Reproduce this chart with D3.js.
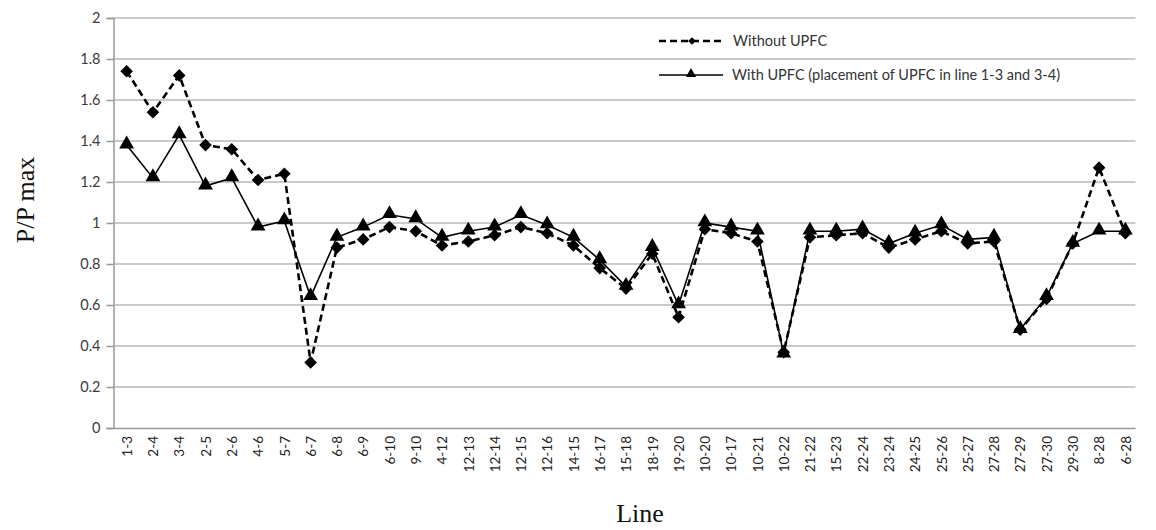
<!DOCTYPE html>
<html><head><meta charset="utf-8">
<script src="https://cdn.jsdelivr.net/npm/d3@7"></script>
<style>body{margin:0;background:#fff;}</style>
</head><body>
<svg id="c" width="1156" height="530"></svg>
<script>
const categories = ["1-3","2-4","3-4","2-5","2-6","4-6","5-7","6-7","6-8","6-9","6-10","9-10","4-12","12-13","12-14","12-15","12-16","14-15","16-17","15-18","18-19","19-20","10-20","10-17","10-21","10-22","21-22","15-23","22-24","23-24","24-25","25-26","25-27","27-28","27-29","27-30","29-30","8-28","6-28"];
const withoutUPFC = [1.74,1.54,1.72,1.38,1.36,1.21,1.24,0.32,0.88,0.92,0.98,0.96,0.89,0.91,0.94,0.98,0.95,0.89,0.78,0.68,0.85,0.54,0.97,0.95,0.91,0.37,0.93,0.94,0.95,0.88,0.92,0.96,0.90,0.91,0.48,0.63,0.90,1.27,0.95];
const withUPFC = [1.38,1.22,1.43,1.18,1.22,0.98,1.01,0.64,0.93,0.98,1.04,1.02,0.93,0.96,0.98,1.04,0.99,0.93,0.82,0.69,0.88,0.60,1.00,0.98,0.96,0.36,0.96,0.96,0.97,0.90,0.95,0.99,0.92,0.93,0.48,0.64,0.90,0.96,0.96];
const yTicks = [0,0.2,0.4,0.6,0.8,1,1.2,1.4,1.6,1.8,2];
const seriesNames = ["Without UPFC","With UPFC (placement of UPFC in line 1-3 and 3-4)"];

const svg = d3.select("#c");
const mLeft = 113.5, mRight = 1138.5, mTop = 18, mBottom = 428;
const x = d3.scalePoint().domain(categories).range([mLeft, mRight]).padding(0.5);
const y = d3.scaleLinear().domain([0,2]).range([mBottom, mTop]);
const tickFont = "Lato, 'Open Sans', sans-serif";

// gridlines
svg.append("g").selectAll("line").data(yTicks.filter(d=>d>0)).join("line")
  .attr("x1", mLeft).attr("x2", mRight - 3)
  .attr("y1", d=>y(d)).attr("y2", d=>y(d))
  .attr("stroke", "#b8b8b8").attr("stroke-width", 1.5);

// y axis
const ya = svg.append("g").attr("transform", `translate(${mLeft},0)`)
  .call(d3.axisLeft(y).tickValues(yTicks).tickSize(7).tickPadding(6).tickFormat(d=>String(d)));
ya.select(".domain").attr("stroke", "#999").attr("stroke-width", 1.5);
ya.selectAll(".tick line").attr("stroke", "#999").attr("stroke-width", 1.5);
ya.selectAll("text").attr("font-family", tickFont).attr("font-size", 14.5).attr("fill", "#3a3a3a");

// x axis
const xa = svg.append("g").attr("transform", `translate(0,${mBottom})`)
  .call(d3.axisBottom(x).tickSize(0).tickPadding(0));
xa.select(".domain").attr("d", `M${mLeft},0.5H${mRight-3}`).attr("stroke", "#999").attr("stroke-width", 1.5);
xa.selectAll("text")
  .attr("font-family", tickFont).attr("font-size", 13.5).attr("fill", "#222")
  .attr("transform", "rotate(-90)")
  .attr("text-anchor", "end")
  .attr("x", -8).attr("y", 0).attr("dy", "0.35em");

// lines
const line1 = d3.line().x((d,i)=>x(categories[i])).y(d=>y(d));
svg.append("path").datum(withoutUPFC).attr("d", line1)
  .attr("fill","none").attr("stroke","#000").attr("stroke-width",2.6).attr("stroke-dasharray","7,4");
svg.append("path").datum(withUPFC).attr("d", line1)
  .attr("fill","none").attr("stroke","#000").attr("stroke-width",1.6);

const square = d3.symbol().type(d3.symbolSquare).size(80);
const tri = d3.symbol().type(d3.symbolTriangle).size(95);
svg.append("g").selectAll("path").data(withUPFC).join("path")
  .attr("d", tri).attr("transform",(d,i)=>`translate(${x(categories[i])},${y(d)-1})`).attr("fill","#000");
svg.append("g").selectAll("path").data(withoutUPFC).join("path")
  .attr("d", square).attr("transform",(d,i)=>`translate(${x(categories[i])},${y(d)}) rotate(45)`).attr("fill","#000");

// legend
const lg = svg.append("g");
lg.append("line").attr("x1",659).attr("x2",725).attr("y1",41).attr("y2",41)
  .attr("stroke","#000").attr("stroke-width",2.6).attr("stroke-dasharray","7,4");
lg.append("path").attr("d", d3.symbol().type(d3.symbolSquare).size(30)).attr("transform","translate(692,41) rotate(45)");
lg.append("text").attr("x",733).attr("y",41).attr("dy","0.35em").text(seriesNames[0])
  .attr("font-family",tickFont).attr("font-size",14.5).attr("fill","#333");
lg.append("line").attr("x1",659).attr("x2",723).attr("y1",75).attr("y2",75)
  .attr("stroke","#000").attr("stroke-width",1.6);
lg.append("path").attr("d", d3.symbol().type(d3.symbolTriangle).size(45)).attr("transform","translate(691,74)");
lg.append("text").attr("x",732).attr("y",75).attr("dy","0.35em").text(seriesNames[1])
  .attr("font-family",tickFont).attr("font-size",14.5).attr("fill","#333");

// axis titles
svg.append("text").attr("transform","translate(34,200) rotate(-90)").attr("text-anchor","middle")
  .attr("font-family","'Liberation Serif', 'Times New Roman', serif").attr("font-size",26).attr("fill","#111").text("P/P max");
svg.append("text").attr("x",640).attr("y",522).attr("text-anchor","middle")
  .attr("font-family","'Liberation Serif', 'Times New Roman', serif").attr("font-size",26).attr("fill","#111").text("Line");
</script>
</body></html>
